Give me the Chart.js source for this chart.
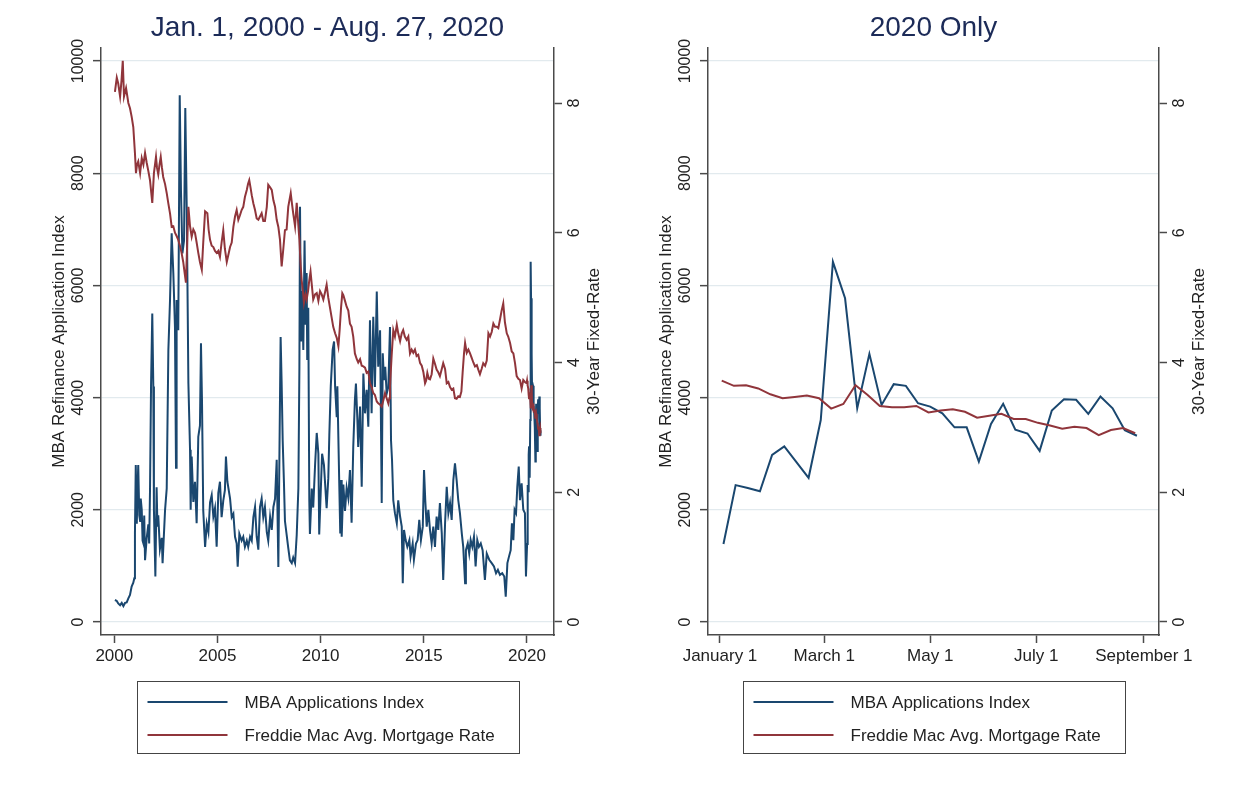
<!DOCTYPE html>
<html>
<head>
<meta charset="utf-8">
<title>MBA Refinance Index and Freddie Mac Mortgage Rate</title>
<script src="https://cdn.jsdelivr.net/npm/chart.js@4.4.1/dist/chart.umd.min.js"></script>
<style>
  html, body { margin: 0; padding: 0; background: #ffffff; }
  #wrap { position: relative; width: 1243px; height: 799px; overflow: hidden; }
  canvas { position: absolute; top: 0; }
  #panelFull { left: 0; }
  #panel2020 { left: 621px; }
</style>
</head>
<body>
<div id="wrap">
  <canvas id="panelFull" width="621" height="799"></canvas>
  <canvas id="panel2020" width="622" height="799"></canvas>
</div>
<script>
// ---------------- data ----------------
// MBA refinance index, 2000 through 2019 (decimal year, index value)
const mbaYears = [
  2000.03,2000.12,2000.19,2000.28,2000.36,2000.44,2000.52,2000.60,2000.68,2000.76,2000.84,2000.92,2000.97,
  2001.00,2001.04,2001.09,2001.12,2001.16,2001.21,2001.25,2001.28,2001.33,2001.37,2001.41,2001.45,2001.49,2001.57,2001.65,2001.69,2001.73,2001.78,2001.84,2001.89,2001.92,2001.99,
  2002.05,2002.09,2002.13,2002.21,2002.30,2002.34,2002.37,2002.46,2002.54,2002.62,2002.70,2002.78,2002.86,2002.94,2002.99,
  2003.02,2003.10,2003.17,2003.23,2003.30,2003.38,2003.44,2003.51,2003.56,2003.59,2003.67,2003.70,2003.75,2003.83,2003.91,2003.99,
  2004.07,2004.15,2004.20,2004.25,2004.31,2004.40,2004.48,2004.56,2004.64,2004.72,2004.80,2004.88,2004.96,
  2005.04,2005.12,2005.20,2005.28,2005.36,2005.41,2005.48,2005.61,2005.69,2005.77,2005.85,2005.93,2005.98,
  2006.06,2006.17,2006.25,2006.33,2006.42,2006.49,2006.58,2006.66,2006.74,2006.82,2006.90,2006.98,
  2007.06,2007.14,2007.22,2007.30,2007.39,2007.46,2007.55,2007.63,2007.71,2007.79,2007.87,2007.95,
  2008.00,2008.06,2008.11,2008.16,2008.22,2008.27,2008.35,2008.43,2008.51,2008.60,2008.67,2008.76,2008.84,2008.92,2008.97,
  2009.00,2009.05,2009.10,2009.16,2009.22,2009.27,2009.32,2009.35,2009.40,2009.45,2009.48,2009.57,2009.64,2009.73,2009.81,2009.89,2009.93,
  2010.00,2010.07,2010.16,2010.29,2010.37,2010.42,2010.49,2010.58,2010.65,2010.70,2010.78,2010.81,2010.90,2010.95,2010.99,
  2011.02,2011.10,2011.18,2011.26,2011.34,2011.42,2011.50,2011.58,2011.66,2011.71,2011.78,2011.82,2011.91,2011.99,
  2012.07,2012.15,2012.23,2012.31,2012.39,2012.47,2012.55,2012.63,2012.72,2012.79,2012.88,2012.96,
  2013.01,2013.07,2013.13,2013.20,2013.28,2013.36,2013.41,2013.46,2013.52,2013.60,2013.69,2013.76,2013.85,2013.93,2013.98,
  2014.04,2014.12,2014.20,2014.30,2014.36,2014.46,2014.52,2014.62,2014.70,2014.78,2014.86,2014.95,
  2015.01,2015.07,2015.14,2015.22,2015.30,2015.38,2015.46,2015.54,2015.62,2015.70,2015.78,2015.87,2015.94,
  2016.03,2016.11,2016.19,2016.27,2016.35,2016.43,2016.51,2016.59,2016.67,2016.75,2016.84,2016.91,
  2017.00,2017.04,2017.13,2017.20,2017.27,2017.35,2017.43,2017.51,2017.59,2017.67,2017.76,2017.85,2017.96,
  2018.05,2018.17,2018.29,2018.40,2018.50,2018.59,2018.69,2018.80,2018.90,2018.97,
  2019.05,2019.13,2019.21,2019.27,2019.34,2019.40,2019.47,2019.53,2019.60,2019.66,2019.74,2019.82,2019.90,2019.95
];
const mbaIndex = [
  392,375,330,300,340,285,340,350,420,481,630,700,780,
  1580,2800,1750,2300,2800,1900,1800,2200,2000,1450,1400,1900,1100,1500,1740,1400,2350,4200,5500,4200,2000,810,
  2400,1700,1900,1300,1500,1050,1290,2000,2380,4850,5740,6930,6220,5260,2750,
  5740,5200,9390,7700,6570,6800,9160,7360,5440,4260,3070,2000,2950,2140,2500,1760,
  3300,3500,4970,3920,1990,1340,1750,1600,2130,2260,1880,2030,1340,
  2300,2500,1870,2160,2350,2950,2500,2200,1870,1930,1520,1400,985,
  1570,1450,1520,1340,1450,1340,1520,1450,1870,2050,1520,1290,
  2050,2200,1870,2050,1600,1450,1870,1640,2050,2200,2890,980,
  2890,5080,4250,3240,2500,1800,1560,1320,1100,1050,1150,1050,1550,2380,4550,
  7400,5000,5900,4850,6800,5300,6220,4670,5600,2170,1570,2380,2040,2800,3370,3000,1560,
  2280,3000,2800,2030,2560,3330,4200,4850,5000,4200,3650,4200,2500,1580,2530,
  1520,2450,1980,2390,2210,2710,1770,3120,3960,4250,3600,3120,3840,2410,
  4430,3720,4140,3480,5380,3720,5440,4190,5890,4550,5200,2120,
  4790,4310,4550,4070,4190,5260,3240,2880,2170,1940,1760,2170,1880,1700,690,
  1640,1460,1340,1460,1170,1400,1110,1400,1460,1820,1460,1700,
  2710,2170,1700,2000,1640,1400,1700,1340,1880,1640,2120,1580,750,
  1760,2410,1940,2120,1820,2530,2830,2530,2170,1940,1580,1340,
  690,1280,1400,1220,1460,1340,1520,990,1460,1340,1400,1280,750,
  1220,1110,1050,990,870,930,840,870,810,450,
  1050,1170,1280,1760,1460,2000,1940,2410,2770,2170,2470,2000,1940,810
];

// Freddie Mac 30-year fixed rate, 2000 through 2019 (decimal year, percent)
const rateYears = [
  2000.03,2000.12,2000.19,2000.28,2000.35,2000.41,2000.47,2000.57,2000.68,2000.76,2000.84,2000.92,
  2001.00,2001.05,2001.10,2001.16,2001.25,2001.33,2001.41,2001.49,2001.57,2001.65,2001.73,2001.84,2001.92,
  2002.02,2002.07,2002.13,2002.19,2002.25,2002.31,2002.37,2002.46,2002.54,2002.62,2002.70,2002.78,2002.86,2002.94,
  2003.02,2003.10,2003.18,2003.26,2003.34,2003.40,2003.47,2003.53,2003.59,2003.67,2003.75,2003.83,2003.91,2003.99,
  2004.07,2004.15,2004.24,2004.31,2004.40,2004.51,2004.57,2004.64,2004.72,2004.80,2004.88,2004.96,
  2005.04,2005.12,2005.20,2005.28,2005.36,2005.45,2005.52,2005.61,2005.69,2005.77,2005.85,2005.93,
  2006.01,2006.09,2006.17,2006.25,2006.33,2006.42,2006.48,2006.54,2006.60,2006.66,2006.74,2006.82,2006.90,2006.98,
  2007.06,2007.14,2007.22,2007.30,2007.39,2007.46,2007.55,2007.63,2007.71,2007.79,2007.87,2007.95,
  2008.03,2008.11,2008.19,2008.27,2008.35,2008.43,2008.55,2008.61,2008.67,2008.76,2008.84,2008.90,2008.97,
  2009.03,2009.08,2009.14,2009.19,2009.26,2009.32,2009.39,2009.45,2009.51,2009.57,2009.64,2009.73,2009.81,2009.89,2009.97,
  2010.05,2010.13,2010.21,2010.29,2010.37,2010.45,2010.53,2010.61,2010.70,2010.78,2010.86,2010.92,2010.99,
  2011.05,2011.10,2011.18,2011.26,2011.34,2011.42,2011.50,2011.58,2011.66,2011.75,2011.82,2011.91,2011.99,
  2012.07,2012.15,2012.23,2012.31,2012.39,2012.47,2012.55,2012.63,2012.72,2012.79,2012.88,2012.96,
  2013.04,2013.12,2013.20,2013.28,2013.33,2013.36,2013.44,2013.52,2013.60,2013.69,2013.76,2013.85,2013.93,
  2014.00,2014.08,2014.17,2014.25,2014.33,2014.41,2014.49,2014.57,2014.65,2014.73,2014.82,2014.90,2014.98,
  2015.06,2015.11,2015.17,2015.24,2015.30,2015.38,2015.46,2015.54,2015.62,2015.70,2015.78,2015.87,2015.94,
  2016.03,2016.11,2016.19,2016.27,2016.35,2016.43,2016.51,2016.59,2016.67,2016.75,2016.82,2016.88,2016.95,
  2017.00,2017.08,2017.16,2017.24,2017.32,2017.40,2017.48,2017.57,2017.64,2017.72,2017.80,2017.88,2017.97,
  2018.05,2018.13,2018.21,2018.29,2018.37,2018.45,2018.53,2018.61,2018.69,2018.77,2018.85,2018.93,
  2019.02,2019.09,2019.18,2019.26,2019.34,2019.42,2019.50,2019.58,2019.66,2019.74,2019.82,2019.90,2019.98
];
const rateValues = [
  8.17,8.39,8.30,8.10,8.35,8.65,8.10,8.23,8.00,7.92,7.79,7.63,
  7.23,6.92,7.05,7.10,6.92,7.15,7.05,7.23,7.08,6.95,6.81,6.46,6.92,
  7.17,7.00,6.90,7.05,7.17,7.00,6.86,6.75,6.61,6.45,6.30,6.09,6.10,6.00,
  5.95,5.89,5.80,5.69,5.55,5.40,5.23,5.80,6.40,6.10,5.94,6.05,6.00,5.85,
  5.69,5.55,5.43,5.85,6.33,6.30,6.05,5.89,5.80,5.78,5.72,5.69,
  5.72,5.63,5.85,6.04,5.75,5.55,5.65,5.78,5.85,6.09,6.25,6.35,
  6.20,6.27,6.35,6.40,6.55,6.66,6.75,6.81,6.70,6.58,6.45,6.35,6.22,6.20,
  6.25,6.30,6.18,6.18,6.40,6.74,6.70,6.66,6.50,6.40,6.20,6.09,
  5.89,5.48,5.75,6.04,6.05,6.40,6.61,6.45,6.30,6.10,6.46,6.20,5.89,
  5.50,5.27,5.10,4.92,5.05,4.97,5.10,5.27,5.40,5.20,4.97,5.05,5.07,4.95,5.10,
  5.05,4.97,5.08,5.20,5.00,4.85,4.70,4.55,4.45,4.38,4.25,4.50,4.85,
  5.07,5.04,4.95,4.86,4.80,4.60,4.55,4.40,4.14,4.05,4.00,4.05,3.95,
  3.94,3.92,3.84,3.86,3.68,3.62,3.53,3.50,3.40,3.37,3.35,3.32,
  3.42,3.53,3.45,3.37,3.45,3.63,4.10,4.50,4.40,4.58,4.45,4.33,4.45,
  4.50,4.40,4.35,4.40,4.14,4.20,4.15,4.20,4.10,4.12,3.99,3.95,3.85,
  3.68,3.72,3.84,3.75,3.74,3.82,4.06,3.98,3.89,3.85,3.79,3.90,3.99,
  3.90,3.68,3.70,3.62,3.58,3.60,3.45,3.44,3.48,3.47,3.55,3.84,4.15,
  4.30,4.15,4.20,4.14,4.07,4.00,3.94,3.96,3.89,3.82,3.90,3.99,3.95,
  4.03,4.45,4.40,4.47,4.60,4.55,4.55,4.53,4.66,4.80,4.91,4.62,
  4.45,4.40,4.30,4.17,4.14,3.99,3.79,3.75,3.73,3.60,3.73,3.70,3.68
];

// 2020 weekly observations (day of year, Jan 1 = 0)
const mbaDays2020 = [2,9,16,23,30,37,44,51,58,65,72,79,86,93,100,107,114,121,128,135,142,149,156,163,170,177,184,191,198,205,212,219,226,233,240];
const mbaIndex2020 = [1390,2440,2390,2330,2980,3130,2850,2570,3600,6420,5770,3810,4780,3870,4240,4210,3900,3840,3720,3470,3470,2860,3530,3890,3430,3360,3050,3770,3970,3960,3710,4020,3810,3420,3320];
const rateDays2020 = [1,8,15,22,29,36,43,50,57,64,71,78,85,92,99,106,113,120,127,134,141,148,155,162,169,176,183,190,197,204,211,218,225,232,239];
const rate2020 = [3.72,3.64,3.65,3.60,3.51,3.45,3.47,3.49,3.45,3.29,3.36,3.65,3.50,3.33,3.31,3.31,3.33,3.23,3.26,3.28,3.24,3.15,3.18,3.21,3.13,3.13,3.07,3.03,2.98,3.01,2.99,2.88,2.96,2.99,2.91];

// axis ticks and labels
const yearTicks = [2000, 2005, 2010, 2015, 2020];
const monthTickDays = [0, 60, 121, 182, 244];
const monthTickLabels = ['January 1', 'March 1', 'May 1', 'July 1', 'September 1'];
const indexTicks = [0, 2000, 4000, 6000, 8000, 10000];
const rateTicks = [0, 2, 4, 6, 8];
const seriesNames = ['MBA Applications Index', 'Freddie Mac Avg. Mortgage Rate'];
const panelTitles = ['Jan. 1, 2000 - Aug. 27, 2020', '2020 Only'];
const axisTitles = ['MBA Refinance Application Index', '30-Year Fixed-Rate'];

// ---------------- styling ----------------
const FONT = '"Liberation Sans", Arial, Helvetica, sans-serif';
const NAVY = '#1a476f';
const MAROON = '#90353b';
const INK = '#222222';
const TITLE_INK = '#1c2b58';
const AXIS = '#4a4a4a';
const GRID = '#e2eaee';
const PLOT_TOP_PAD = { top: 11, bottom: 3.4 };   // title band = 48px
const PLOT_BOTTOM = 635;
const CANVAS_H = 799;

const toPoints = (xs, ys) => xs.map((x, i) => ({ x: x, y: ys[i] }));
const dayToYear = d => 2020 + d / 366;

// rotated tick labels, axis titles and boxed legend
const stataText = {
  id: 'stataText',
  afterDraw(chart) {
    const ctx = chart.ctx;
    const area = chart.chartArea;
    const yL = chart.scales.y;
    const yR = chart.scales.y1;
    ctx.save();
    ctx.fillStyle = INK;
    ctx.textAlign = 'center';
    ctx.textBaseline = 'alphabetic';

    const upright = (text, x, y) => {
      ctx.save();
      ctx.translate(x, y);
      ctx.rotate(-Math.PI / 2);
      ctx.fillText(text, 0, 0);
      ctx.restore();
    };

    ctx.font = '16px ' + FONT;
    yL.ticks.forEach(t => upright(String(t.value), area.left - 18, yL.getPixelForValue(t.value)));
    yR.ticks.forEach(t => upright(String(t.value), area.right + 25, yR.getPixelForValue(t.value)));

    ctx.font = '17px ' + FONT;
    const midY = (area.top + area.bottom) / 2;
    upright(yL.options.title.text, area.left - 37, midY);
    upright(yR.options.title.text, area.right + 45, midY);

    // legend box under the plot
    const boxW = 382, boxH = 72, boxTop = 681;
    const boxLeft = Math.round((area.left + area.right) / 2 - boxW / 2) + 0.5;
    ctx.strokeStyle = '#444444';
    ctx.lineWidth = 1;
    ctx.strokeRect(boxLeft, boxTop + 0.5, boxW, boxH);
    ctx.textAlign = 'left';
    ctx.textBaseline = 'middle';
    ctx.font = '17px ' + FONT;
    chart.data.datasets.forEach((ds, i) => {
      const rowY = boxTop + 21 + i * 33;
      ctx.strokeStyle = ds.borderColor;
      ctx.lineWidth = 2;
      ctx.beginPath();
      ctx.moveTo(boxLeft + 10, rowY);
      ctx.lineTo(boxLeft + 90, rowY);
      ctx.stroke();
      ctx.fillStyle = INK;
      ctx.fillText(ds.label, boxLeft + 107, rowY + 1);
    });
    ctx.restore();
  }
};

function makePanel(canvasId, cfg) {
  const canvas = document.getElementById(canvasId);
  const canvasW = canvas.width;
  return new Chart(canvas, {
    type: 'line',
    data: {
      datasets: [
        { label: seriesNames[0], data: cfg.indexPoints, yAxisID: 'y', borderColor: NAVY,
          borderWidth: 2, pointRadius: 0, tension: 0, fill: false, order: 1 },
        { label: seriesNames[1], data: cfg.ratePoints, yAxisID: 'y1', borderColor: MAROON,
          borderWidth: 2, pointRadius: 0, tension: 0, fill: false, order: 0 }
      ]
    },
    options: {
      responsive: false,
      animation: false,
      devicePixelRatio: 1,
      layout: { padding: 0 },
      plugins: {
        legend: { display: false },
        tooltip: { enabled: false },
        title: {
          display: true, text: cfg.title, fullSize: false, color: TITLE_INK,
          font: { family: FONT, size: 28, weight: 'normal' }, padding: PLOT_TOP_PAD
        }
      },
      scales: {
        x: {
          type: 'linear', position: 'bottom', min: cfg.xMin, max: cfg.xMax,
          afterBuildTicks: s => { s.ticks = cfg.xTicks.map(v => ({ value: v })); },
          afterFit: s => { s.height = CANVAS_H - PLOT_BOTTOM; },
          ticks: { callback: cfg.xLabel, autoSkip: false, maxRotation: 0, minRotation: 0,
                   padding: 3, color: INK, font: { family: FONT, size: 17 } },
          grid: { drawOnChartArea: false, drawTicks: true, tickLength: 8, tickColor: AXIS, tickWidth: 1.5 },
          border: { display: true, color: AXIS, width: 1.5 }
        },
        y: {
          type: 'linear', position: 'left', min: -231.7, max: 10231.7,
          afterBuildTicks: s => { s.ticks = indexTicks.map(v => ({ value: v })); },
          afterFit: s => { s.width = cfg.plotLeft; },
          ticks: { display: false },
          title: { display: false, text: axisTitles[0] },
          grid: { color: GRID, lineWidth: 1.3, drawTicks: true, tickLength: 8, tickColor: AXIS, tickWidth: 1.5 },
          border: { display: true, color: AXIS, width: 1.5 }
        },
        y1: {
          type: 'linear', position: 'right', min: -0.2004, max: 8.848,
          afterBuildTicks: s => { s.ticks = rateTicks.map(v => ({ value: v })); },
          afterFit: s => { s.width = canvasW - cfg.plotRight; },
          ticks: { display: false },
          title: { display: false, text: axisTitles[1] },
          grid: { drawOnChartArea: false, drawTicks: true, tickLength: 8, tickColor: AXIS, tickWidth: 1.5 },
          border: { display: true, color: AXIS, width: 1.5 }
        }
      }
    },
    plugins: [stataText]
  });
}

// full history panel: 2000-2019 followed by the 2020 weeks
makePanel('panelFull', {
  title: panelTitles[0],
  indexPoints: toPoints(mbaYears.concat(mbaDays2020.map(dayToYear)), mbaIndex.concat(mbaIndex2020)),
  ratePoints: toPoints(rateYears.concat(rateDays2020.map(dayToYear)), rateValues.concat(rate2020)),
  xMin: 1999.355, xMax: 2021.309,
  xTicks: yearTicks,
  xLabel: v => String(v),
  plotLeft: 101, plotRight: 554
});

// 2020 panel on a day-of-year axis
makePanel('panel2020', {
  title: panelTitles[1],
  indexPoints: toPoints(mbaDays2020, mbaIndex2020),
  ratePoints: toPoints(rateDays2020, rate2020),
  xMin: -6.9, xMax: 252.7,
  xTicks: monthTickDays,
  xLabel: v => monthTickLabels[monthTickDays.indexOf(v)],
  plotLeft: 87, plotRight: 538
});
</script>
</body>
</html>
